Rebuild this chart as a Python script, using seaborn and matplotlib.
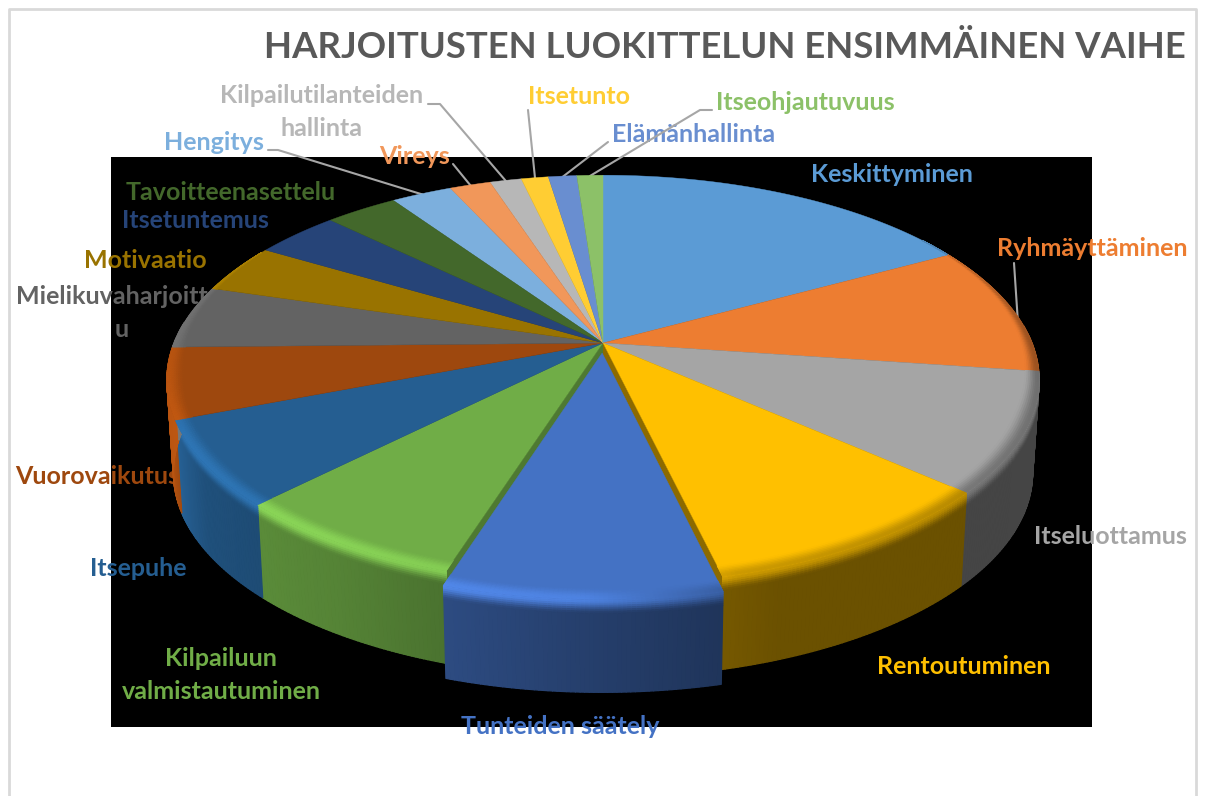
import numpy as np
import matplotlib
matplotlib.use("Agg")
import matplotlib.pyplot as plt
from matplotlib.collections import PolyCollection
import seaborn as sns

TITLE = "HARJOITUSTEN LUOKITTELUN ENSIMMÄINEN VAIHE"
categories = ["Keskittyminen", "Ryhmäyttäminen", "Itseluottamus", "Rentoutuminen",
              "Tunteiden säätely", "Kilpailuun\nvalmistautuminen", "Itsepuhe", "Vuorovaikutus",
              "Mielikuvaharjoittel\nu", "Motivaatio", "Itsetuntemus", "Tavoitteenasettelu",
              "Hengitys", "Vireys", "Kilpailutilanteiden\nhallinta", "Itsetunto",
              "Elämänhallinta", "Itseohjautuvuus"]
values = [17.0, 10.25, 9.4, 9.7, 8.6, 7.5, 6.7, 5.6, 5.0, 3.9, 3.75, 3.2, 2.7, 1.8, 1.4, 1.2, 1.25, 1.15]
hex_colors = ["#5B9BD5", "#ED7D31", "#A5A5A5", "#FFC000", "#4472C4", "#70AD47", "#255E91", "#9E480E",
              "#636363", "#997300", "#264478", "#43682B", "#7CAFDD", "#F1975A", "#B7B7B7", "#FFCD33",
              "#698ED0", "#8CC168"]
explode = [0, 0, 0, 0, 0.05, 0, 0, 0, 0, 0, 0, 0, 0, 0, 0, 0, 0, 0]
label_xy = [(892, 175), (1092, 248), (1110, 536), (964, 666), (560, 726), (221, 675), (138, 568),
            (97, 477), (122, 313), (145, 261), (195, 221), (231, 193), (214, 143), (415, 157),
            (322, 112), (579, 96), (694, 135), (805, 103)]
leader_start = [None, [(1014, 263)], None, None, None, None, None, None, None, None, None, None,
                [(268, 150), (278, 150)], [(453, 164)], [(428, 104), (440, 104)], [(528, 110)],
                [(608, 142)], [(712, 110), (700, 110)]]
leader_shift = [0, 3.5, 0, 0, 0, 0, 0, 0, 0, 0, 0, 0, 0, 0, 0, 0, 0, 0]

sns.set_theme(style="white")
plt.rcParams["font.family"] = ["Lato", "DejaVu Sans"]
palette = sns.color_palette(hex_colors)

fig = plt.figure(figsize=(12.06, 7.96), dpi=100, facecolor="white")
ax = fig.add_axes([0, 0, 1, 1])
ax.set_xlim(0, 1206)
ax.set_ylim(796, 0)
ax.axis("off")

ax.plot([8.5, 8.5, 1196, 1196], [796, 8.5, 8.5, 796], color="#d9d9d9", lw=2, zorder=1)
ax.fill_between([111, 1092], 157, 727, color="black", lw=0, zorder=1)

CX, CY, A, B, K, DEPTH = 603.0, 343.0, 429.0, 198.0, 0.18, 93.0


def project(theta, r=1.0, off=(0.0, 0.0), drop=0.0):
    th = np.radians(theta)
    X = r * np.sin(th) + off[0]
    Y = r * np.cos(th) + off[1]
    w = 1 + K * Y
    sx = CX + A * X / w
    sy = CY - B * Y / w
    if drop:
        sx = CX + (sx - CX) * (1 - 0.015 * drop / DEPTH)
        sy = sy + drop
    return sx, sy


def side_factor(t):
    return np.interp(t, [90, 160, 183, 212, 237, 258, 270], [.42, .42, .56, .76, .85, 1.17, 1.2])


def hi_factor(t):
    return np.interp(t, [60, 90, 130, 165, 182, 212, 240, 270, 300],
                     [.85, .65, .72, .8, 1.15, 1.22, 1.25, 1.15, 1.1])


def bevel_width(t):
    return 0.038 * np.interp(t, [55, 110, 262, 300], [0, 1, 1, 0])


def shade(c, f):
    return tuple(np.clip(np.array(c) * f, 0, 1))


def mix(c1, c2, t):
    return tuple(np.array(c1) * (1 - t) + np.array(c2) * t)


def smooth(t):
    return t * t * (3 - 2 * t)


def draw_slice(t0, t1, col, off, z):
    ts = np.linspace(t0, t1, max(2, int((t1 - t0) * 2) + 1))
    polys, cols = [], []
    levels = list(np.linspace(0, 14, 8)) + [DEPTH]
    for a, b in zip(ts[:-1], ts[1:]):
        m = (a + b) / 2
        if m < 85 or m > 276:
            continue
        top = shade(col, hi_factor(m))
        side = shade(col, side_factor(m))
        for i in range(len(levels) - 1):
            d0, d1 = levels[i], levels[i + 1]
            polys.append([project(a, 1, off, d0), project(b, 1, off, d0),
                          project(b, 1, off, d1), project(a, 1, off, d1)])
            cols.append(mix(top, side, smooth(min(1, i / 7))))
    if polys:
        ax.add_collection(PolyCollection(polys, facecolors=cols, edgecolors=cols, linewidths=0.9, zorder=z))
    rim = [project(t, 1, off) for t in ts]
    apex = project(0, 0, off)
    ax.fill(*zip(*([apex] + rim)), color=col, lw=0.3, zorder=z + 0.1)
    polys, cols = [], []
    n = 8
    for a, b in zip(ts[:-1], ts[1:]):
        m = (a + b) / 2
        bw = bevel_width(m)
        if bw <= 0:
            continue
        for i in range(n):
            r0, r1 = 1 - bw * (1 - i / n), 1 - bw * (1 - (i + 1) / n)
            polys.append([project(a, r0, off), project(b, r0, off), project(b, r1, off), project(a, r1, off)])
            cols.append(mix(col, shade(col, hi_factor(m)), smooth((i + 1) / n)))
    if polys:
        ax.add_collection(PolyCollection(polys, facecolors=cols, edgecolors=cols, linewidths=0.6, zorder=z + 0.2))


def cut_wall(t, col, f, z):
    apex = project(0, 0)
    p = project(t)
    q = project(t, 1, (0, 0), DEPTH)
    ax.fill([apex[0], p[0], q[0], apex[0]], [apex[1], p[1], q[1], apex[1] + DEPTH],
            color=shade(col, f), lw=0, zorder=z)


edges = np.concatenate([[0], np.cumsum(values)]) / np.sum(values) * 360.0
mids = (edges[:-1] + edges[1:]) / 2

LINE_GAP = 33
for name, (x, y), c in zip(categories, label_xy, palette):
    lines = name.split("\n")
    for k, line in enumerate(lines):
        ly = y + (k - (len(lines) - 1) / 2) * LINE_GAP
        ax.text(x, ly, line, color=c, fontsize=18, fontweight="bold", ha="center", va="center", zorder=2)
ax.text(1186, 47, TITLE, color="#595959", fontsize=26.3, fontweight="bold", ha="right", va="center", zorder=2)

for mid, shift, pts in zip(mids, leader_shift, leader_start):
    if pts is None:
        continue
    end = project(mid + shift, 0.995)
    xs = [p[0] for p in pts] + [end[0]]
    ys = [p[1] for p in pts] + [end[1]]
    ax.plot(xs, ys, color="#a6a6a6", lw=1.5, zorder=3)

for i in np.argsort(explode):
    t0, t1 = edges[i], edges[i + 1]
    mid = mids[i]
    e = explode[i]
    off = (e * np.sin(np.radians(mid)), e * np.cos(np.radians(mid)))
    z = 10
    if e:
        cut_wall(t0, palette[i - 1], 0.55, 8)
        cut_wall(t1, palette[i + 1], 0.7, 8)
        z = 20
    draw_slice(t0, t1, palette[i], off, z)

fig.savefig("out.png", dpi=100, facecolor="white")
